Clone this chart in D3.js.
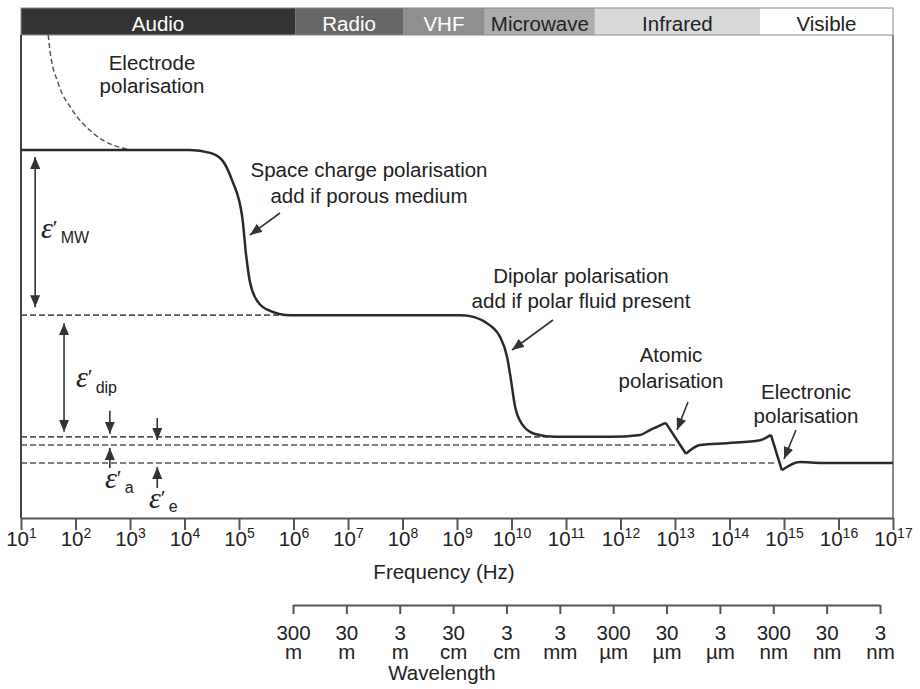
<!DOCTYPE html>
<html><head><meta charset="utf-8">
<script src="https://cdn.jsdelivr.net/npm/d3@7"></script>
<style>body{margin:0;background:#fff}</style>
</head><body><svg id="c" width="920" height="689"></svg>
<script>
// ---- data ----
const bandNames = ["Audio","Radio","VHF","Microwave","Infrared","Visible"];
const bandStartExp = [1, 6.03, 8.01, 9.51, 11.53, 14.56];
const bandEndExp = 17;
const bandColors = ["#333333","#676767","#8f8f8f","#adadad","#d9d9d9","#ffffff"];
const bandTextColors = ["#fff","#fff","#fff","#222","#222","#222"];

const freqTickExponents = [1,2,3,4,5,6,7,8,9,10,11,12,13,14,15,16,17];

const wavelengthValues = [300,30,3,0.3,0.03,0.003,3e-4,3e-5,3e-6,3e-7,3e-8,3e-9];
const wavelengthNumbers = ["300","30","3","30","3","3","300","30","3","300","30","3"];
const wavelengthUnits = ["m","m","m","cm","cm","mm","µm","µm","µm","nm","nm","nm"];

// response curve: [log10 frequency, relative permittivity (arbitrary units)]
const responseCurve = [
  [1.00,76.2],[4.10,76.2],[4.47,75.6],[4.69,74.1],[4.87,70.0],[5.06,62.3],[5.13,54.5],
  [5.20,48.9],[5.35,44.7],[5.57,42.9],[5.94,42.0],[9.06,42.0],[9.24,41.8],[9.51,40.6],
  [9.79,37.5],[9.92,33.3],[9.99,28.6],[10.06,23.4],[10.19,19.5],[10.43,17.4],[10.80,16.8],
  [11.81,16.8],[12.36,17.2],[12.54,18.2],[12.83,19.7],[13.20,13.3],[13.46,15.1],[13.95,15.5],
  [14.56,16.1],[14.76,17.2],[14.96,9.9],[15.29,11.6],[15.70,11.4],[17.00,11.4]
];
const curveCorners = [24,25,29,30];

const electrodeCurve = [[1.50,100],[1.53,96.9],[1.68,90.1],[1.94,84.5],[2.32,79.7],[3.0,76.2]];

// reference levels: [value, end exponent]
const levelLines = [[42.0,5.94],[16.8,10.80],[15.1,13.04],[11.4,14.87]];

// ---- drawing ----
const svg = d3.select("#c");
const font = "'Liberation Sans', Arial, sans-serif";
const xS = d3.scaleLinear().domain([1,17]).range([21,893]);
const yS = d3.scaleLinear().domain([0,100]).range([518,35]);

const defs = svg.append("defs");
defs.append("marker").attr("id","ah").attr("viewBox","0 0 12 10")
  .attr("refX",12).attr("refY",5).attr("markerWidth",12).attr("markerHeight",10)
  .attr("markerUnits","userSpaceOnUse").attr("orient","auto-start-reverse")
  .append("path").attr("d","M0,0L12,5L0,10Z").attr("fill","#333");

// band strip
const bands = bandNames.map((n,i)=>({name:n,s:bandStartExp[i],e:i<bandNames.length-1?bandStartExp[i+1]:bandEndExp,c:bandColors[i],tc:bandTextColors[i]}));
const bg = svg.append("g");
bg.selectAll("rect").data(bands).join("rect")
  .attr("x",d=>xS(d.s)).attr("y",8).attr("width",d=>xS(d.e)-xS(d.s)).attr("height",yS(100)-8)
  .attr("fill",d=>d.c);
bg.append("rect").attr("x",xS(1)).attr("y",8).attr("width",xS(17)-xS(1)).attr("height",yS(100)-8)
  .attr("fill","none").attr("stroke","#8a8a8a").attr("stroke-width",1);
bg.selectAll("text").data(bands).join("text")
  .attr("x",d=>(xS(d.s)+xS(d.e))/2).attr("y",31).attr("text-anchor","middle")
  .attr("font-family",font).attr("font-size",20.5).attr("fill",d=>d.tc).text(d=>d.name);

// plot borders
svg.append("line").attr("x1",xS(1)).attr("x2",xS(1)).attr("y1",yS(100)).attr("y2",yS(0))
  .attr("stroke","#444").attr("stroke-width",2);
svg.append("line").attr("x1",xS(17)).attr("x2",xS(17)).attr("y1",yS(100)).attr("y2",yS(0))
  .attr("stroke","#888").attr("stroke-width",2);

// dashed reference levels
svg.append("g").selectAll("line").data(levelLines).join("line")
  .attr("x1",xS(1)).attr("x2",d=>xS(d[1])).attr("y1",d=>yS(d[0])).attr("y2",d=>yS(d[0]))
  .attr("stroke","#555").attr("stroke-width",1.6).attr("stroke-dasharray","6,3");

// electrode polarisation dashed curve
const line = d3.line().x(d=>xS(d[0])).y(d=>yS(d[1])).curve(d3.curveMonotoneX);
svg.append("path").attr("d",line(electrodeCurve)).attr("fill","none")
  .attr("stroke","#555").attr("stroke-width",1.5).attr("stroke-dasharray","5,3");

// response curve (split at sharp corners)
const breaks = [0,...curveCorners,responseCurve.length-1];
for (let i=0;i<breaks.length-1;i++){
  const seg = responseCurve.slice(breaks[i],breaks[i+1]+1);
  svg.append("path").attr("d",line(seg)).attr("fill","none")
    .attr("stroke","#2a2a2a").attr("stroke-width",2.5).attr("stroke-linejoin","miter");
}

// frequency axis
const gx = svg.append("g").attr("transform",`translate(0,${yS(0)})`)
  .call(d3.axisBottom(xS).tickValues(freqTickExponents).tickSize(12).tickSizeOuter(0).tickFormat(""));
gx.select(".domain").attr("stroke","#555").attr("stroke-width",2);
gx.selectAll(".tick line").attr("stroke","#555").attr("stroke-width",2);
const tl = gx.selectAll(".tick").append("text").attr("y",28).attr("text-anchor","middle")
  .attr("font-family",font).attr("font-size",20.5).attr("fill","#222");
tl.append("tspan").text("10");
tl.append("tspan").attr("dy",-8).attr("font-size",14).text(d=>d);
svg.append("text").attr("x",444).attr("y",579).attr("text-anchor","middle")
  .attr("font-family",font).attr("font-size",20.5).attr("fill","#222").text("Frequency (Hz)");

// wavelength axis
const wS = d3.scaleLog().domain([300,3e-9]).range([293,880]);
const gw = svg.append("g").attr("transform","translate(0,605)")
  .call(d3.axisBottom(wS).tickValues(wavelengthValues).tickSize(9).tickSizeOuter(0).tickFormat(""));
gw.select(".domain").attr("stroke","#555").attr("stroke-width",2);
gw.selectAll(".tick line").attr("stroke","#555").attr("stroke-width",2);
gw.selectAll(".tick").each(function(d,i){
  const g = d3.select(this);
  g.append("text").attr("y",35).attr("text-anchor","middle").attr("font-family",font)
    .attr("font-size",20.5).attr("fill","#222").text(wavelengthNumbers[i]);
  g.append("text").attr("y",54).attr("text-anchor","middle").attr("font-family",font)
    .attr("font-size",20.5).attr("fill","#222").text(wavelengthUnits[i]);
});
svg.append("text").attr("x",442).attr("y",680).attr("text-anchor","middle")
  .attr("font-family",font).attr("font-size",20.5).attr("fill","#222").text("Wavelength");

// annotations
function txt(x,y,s){
  svg.append("text").attr("x",x).attr("y",y).attr("text-anchor","middle")
    .attr("font-family",font).attr("font-size",20.5).attr("fill","#222").text(s);
}
txt(152,70,"Electrode"); txt(152,93,"polarisation");
txt(369,177,"Space charge polarisation"); txt(369,203,"add if porous medium");
txt(581,283,"Dipolar polarisation"); txt(581,308,"add if polar fluid present");
txt(671,362,"Atomic"); txt(671,388,"polarisation");
txt(806,399,"Electronic"); txt(806,423,"polarisation");

function arrow(x1,y1,x2,y2,both){
  const l = svg.append("line").attr("x1",x1).attr("y1",y1).attr("x2",x2).attr("y2",y2)
    .attr("stroke","#333").attr("stroke-width",1.6).attr("marker-end","url(#ah)");
  if(both) l.attr("marker-start","url(#ah)");
}
arrow(280,213,250,235);
arrow(553,320,512,350);
arrow(688,402,677,430);
arrow(796,430,784,459);

// epsilon double arrows
arrow(xS(1.26),yS(76.2)+7,xS(1.26),yS(42.0)-8,true);
arrow(xS(1.79),yS(42.0)+8,xS(1.79),yS(16.8)-5,true);
arrow(xS(2.63),yS(16.8)-26,xS(2.63),yS(16.8)-3);
arrow(xS(2.63),yS(15.1)+23,xS(2.63),yS(15.1)+3);
arrow(xS(3.50),yS(15.1)-27,xS(3.50),yS(15.1)-5);
arrow(xS(3.50),yS(11.4)+25,xS(3.50),yS(11.4)+4);

function epsLabel(x,y,sub,subdy){
  const t = svg.append("text").attr("x",x).attr("y",y).attr("fill","#222");
  t.append("tspan").attr("font-family","'Liberation Serif','Times New Roman',serif")
    .attr("font-style","italic").attr("font-size",30).text("ε");
  t.append("tspan").attr("font-family","'Liberation Serif',serif").attr("font-size",22)
    .attr("dy",-3).text("′");
  t.append("tspan").attr("font-family",font).attr("font-size",16).attr("dx",3).attr("dy",3+subdy).text(sub);
}
epsLabel(41,238,"MW",5);
epsLabel(76,387,"dip",6);
epsLabel(105,488,"a",5);
epsLabel(149,508,"e",4);
</script></body></html>
